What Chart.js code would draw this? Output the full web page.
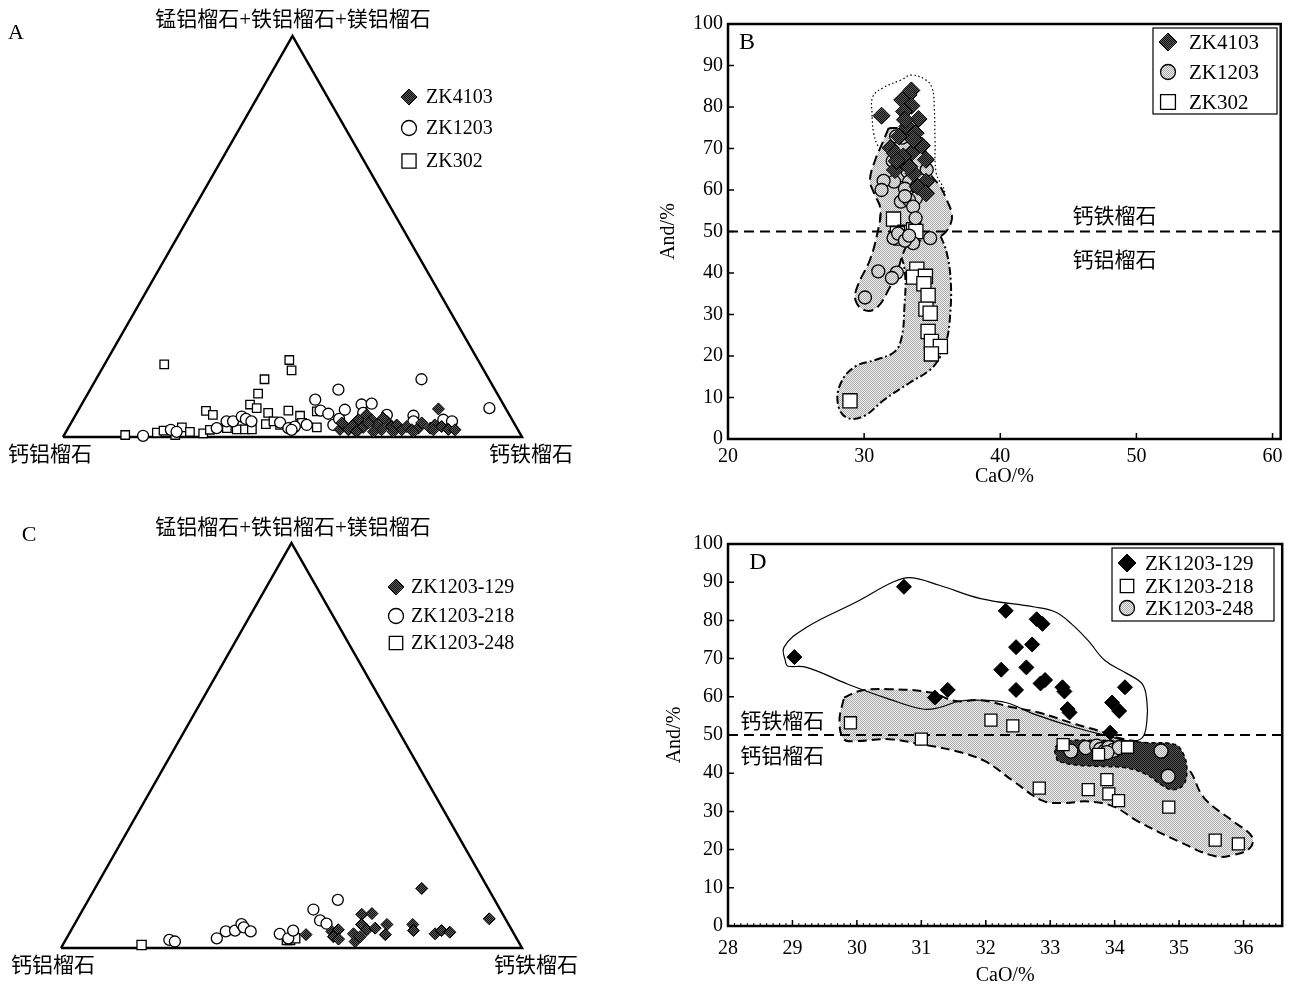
<!DOCTYPE html>
<html>
<head>
<meta charset="utf-8">
<script src="https://cdn.jsdelivr.net/npm/chart.js@4.4.1/dist/chart.umd.min.js"></script>
<style>
  body { margin: 0; background: #fff; width: 1292px; height: 987px; overflow: hidden; position: relative; }
  canvas { position: absolute; }
</style>
</head>
<body>
<canvas id="chartA" width="620" height="490" style="left:0;top:0"></canvas>
<canvas id="chartB" width="652" height="490" style="left:640px;top:0"></canvas>
<canvas id="chartC" width="620" height="497" style="left:0;top:490px"></canvas>
<canvas id="chartD" width="652" height="467" style="left:640px;top:520px"></canvas>
<script>
// ---------- A: ternary, And % and (Sps+Alm+Prp) %, Grs is the rest
const aZK4103And = [78.3, 59.4, 61.3, 61.7, 62.2, 64.2, 63.4, 65.1, 66.8, 68.5, 68.6, 70.3, 71.2, 72.9, 73.6, 75.1, 76.3, 76.4, 78.9, 79.5, 81.2, 83.0, 84.5, 63.3, 67.0, 71.3, 75.7, 79.8, 59.0, 64.8, 67.4];
const aZK4103Py  = [7.0, 1.9, 1.8, 3.0, 4.3, 2.4, 5.5, 4.3, 3.0, 1.8, 3.9, 2.6, 3.0, 1.8, 2.6, 1.8, 2.2, 3.5, 2.2, 3.0, 2.6, 1.9, 1.8, 1.3, 1.3, 1.3, 1.3, 1.8, 3.5, 3.5, 4.7];
const aZK1203And = [17.3, 22.6, 24.1, 32.4, 33.7, 35.1, 36.4, 37.6, 39.1, 45.5, 48.0, 49.2, 51.6, 50.3, 52.8, 54.9, 54.1, 57.4, 57.9, 61.0, 63.1, 62.4, 67.8, 73.7, 74.4, 70.9, 80.7, 82.8, 89.3, 48.9, 58.0];
const aZK1203Py  = [0.3, 1.8, 1.3, 2.2, 3.9, 3.9, 5.1, 4.5, 3.9, 3.6, 2.2, 2.6, 3.0, 9.3, 6.6, 5.8, 11.8, 3.0, 4.5, 8.1, 8.3, 6.0, 5.5, 5.3, 3.9, 14.4, 4.3, 3.9, 7.2, 1.8, 6.8];
const aZK302And  = [13.0, 39.7, 41.5, 36.7, 37.1, 36.7, 38.6, 27.9, 29.9, 45.8, 41.7, 49.0, 52.1, 13.3, 19.9, 21.1, 24.7, 27.0, 30.1, 31.1, 34.6, 36.9, 38.7, 40.2, 42.6, 43.9, 45.8, 50.3, 54.1, 49.0, 24.2];
const aZK302Py   = [18.1, 19.2, 16.6, 14.4, 10.8, 8.1, 7.2, 6.5, 5.5, 6.6, 6.0, 5.3, 6.4, 0.5, 1.1, 1.6, 2.4, 1.3, 0.9, 1.8, 2.2, 1.9, 1.9, 1.9, 3.2, 3.9, 3.0, 3.5, 2.4, 2.4, 0.5];

// ---------- C: ternary
const c129And = [70.9, 89.3, 51.5, 56.7, 57.9, 57.7, 59.1, 63.0, 61.7, 63.5, 61.1, 63.2, 62.3, 64.1, 65.7, 67.8, 68.7, 73.4, 74.3, 79.4, 80.4, 82.4];
const c129Py  = [14.7, 7.2, 3.3, 4.1, 4.5, 2.8, 2.2, 1.6, 3.5, 2.8, 8.3, 8.5, 5.8, 4.5, 4.9, 5.8, 3.3, 5.8, 4.3, 3.5, 4.3, 3.9];
const c218And = [22.5, 23.9, 32.6, 33.7, 35.6, 36.2, 37.1, 39.1, 45.7, 48.1, 48.2, 50.0, 52.8, 54.6, 54.1];
const c218Py  = [2.0, 1.6, 2.4, 4.1, 4.3, 5.9, 5.1, 4.1, 3.5, 2.4, 4.3, 9.5, 6.8, 6.0, 11.9];
const c248And = [17.1, 48.0, 48.7, 49.6];
const c248Py  = [0.75, 2.0, 2.0, 2.4];

// triangle corners: Grs, Sps+Alm+Prp, And
const cornerAnd = [0, 0, 100, 0];
const cornerPy  = [0, 100, 0, 0];

// ---------- B: CaO vs And
const b4103CaO = [31.28, 33.47, 33.26, 32.8, 33.47, 32.93, 34.0, 33.17, 33.78, 32.56, 34.24, 31.95, 32.26, 33.47, 34.54, 33.0, 32.26, 33.63, 34.54, 33.93, 34.54, 33.32, 32.87, 33.63, 33.0, 32.4];
const b4103And = [77.9, 84, 82.9, 81.7, 80.3, 78.9, 77.1, 75.3, 73.7, 72.9, 70.7, 70.1, 68.9, 68.9, 67.3, 66.5, 64.8, 64.0, 62.0, 60.8, 59.2, 65.6, 68.1, 72.1, 76.9, 67];
const b1203CaO = [32.35, 32.8, 32.5, 32.1, 34.6, 32.7, 33.2, 32.2, 31.43, 31.28, 33.3, 34.1, 33.87, 33.0, 33.8, 32.7, 33.3, 33.6, 33.0, 33.78, 32.16, 32.5, 33.6, 33.0, 34.85, 33.3, 31.04, 32.4, 32.04, 30.06];
const b1203And = [72.9, 72.6, 67.3, 67, 64.9, 63.6, 64.4, 62, 62.2, 60, 62, 62.4, 60.8, 60.3, 58, 57.2, 57.6, 56, 58.5, 53.2, 48.4, 49.5, 47.2, 47.8, 48.4, 49, 40.4, 40.1, 38.8, 34.1];
const b302CaO  = [32.16, 32.7, 33.0, 33.63, 33.8, 32.45, 33.87, 33.63, 34.5, 34.39, 34.7, 34.54, 34.85, 34.7, 34.94, 35.6, 34.94, 28.96];
const b302And  = [53, 48.4, 49.8, 50.4, 50, 49.5, 40.9, 39, 39.2, 37.4, 34.6, 31.3, 30.3, 25.9, 23.5, 22.3, 20.5, 9.2];

const b4103FieldCaO = [30.58, 30.64, 31.49, 32.71, 33.48, 34.54, 35.0, 35.15, 35.21, 35.3, 35.9, 34.85, 33.3, 31.8, 31.04, 30.7, 30.58];
const b4103FieldAnd = [77.7, 82.5, 84.8, 86.5, 87.7, 86.5, 84.5, 80.1, 72.1, 64.0, 59.2, 57.6, 60.8, 67.3, 70.5, 73.7, 77.7];
const b1203FieldCaO = [31.8, 31.34, 30.82, 30.43, 30.73, 31.2, 31.0, 30.43, 29.51, 29.36, 29.97, 30.88, 31.8, 32.56, 32.87, 33.32, 34.54, 35.76, 36.37, 36.43, 36.07, 35.6, 34.85, 34.54, 34.24, 33.6, 32.7, 31.8];
const b1203FieldAnd = [74.9, 71.3, 67.3, 62.4, 59.2, 55.5, 50, 43.2, 36.8, 33.5, 31.1, 31.5, 36, 41.6, 44.8, 47.2, 48, 49.2, 52, 54.4, 57.6, 60.8, 64, 68.9, 72.1, 74.1, 74.9, 74.9];
const b302FieldCaO  = [31.19, 31.95, 33.32, 34.85, 35.52, 36.07, 36.37, 36.31, 36.07, 35.6, 34.85, 33.32, 31.49, 29.97, 28.75, 28.08, 28.29, 29.36, 30.88, 32.26, 32.77, 32.96, 33.02, 32.71, 31.95, 31.25, 31.19];
const b302FieldAnd  = [54.4, 56.2, 56.4, 54.4, 49.6, 44.8, 37.6, 29.5, 23.9, 19.9, 16.7, 13.5, 9.5, 5.5, 5.1, 8.3, 13.5, 17.5, 19.1, 21.1, 24.7, 31.9, 39.2, 44.0, 48.0, 51.2, 54.4];
const bLineCaO = [20, 60.6];
const bLineAnd = [50, 50];

// ---------- D: CaO vs And
const d129CaO = [29.03, 30.73, 31.21, 31.41, 32.31, 32.24, 32.47, 32.47, 32.63, 32.72, 32.79, 32.88, 32.85, 32.92, 33.19, 33.22, 33.27, 33.3, 33.96, 34.07, 34.16, 33.93];
const d129And = [70.4, 88.8, 59.8, 61.8, 82.5, 67.1, 73.0, 61.8, 67.7, 73.7, 80.3, 79.1, 63.5, 64.4, 62.5, 61.4, 56.8, 55.9, 58.5, 56.3, 62.5, 50.6];
const d218CaO = [29.9, 31.0, 32.08, 32.42, 32.83, 33.2, 33.59, 33.75, 33.88, 33.91, 34.06, 34.2, 34.84, 35.56, 35.92];
const d218And = [53.2, 48.9, 53.9, 52.4, 36.1, 47.5, 35.7, 44.9, 38.3, 34.6, 32.8, 46.8, 31.1, 22.5, 21.5];
const d248CaO = [33.32, 33.55, 33.72, 33.78, 33.85, 33.91, 33.98, 34.07, 33.88, 34.72, 34.83];
const d248And = [45.8, 46.7, 47.1, 46.2, 45.8, 46.7, 46.0, 46.7, 45.4, 45.8, 39.2];

const d129FieldCaO = [28.9, 28.87, 29.22, 29.99, 30.57, 30.83, 31.28, 31.92, 32.76, 33.08, 33.33, 33.59, 33.85, 34.2, 34.43, 34.5, 34.5, 34.43, 34.23, 33.91, 33.4, 32.76, 32.31, 31.92, 31.6, 31.28, 31.02, 30.5, 29.86, 29.22, 28.93, 28.9];
const d129FieldAnd = [68.6, 73, 78.2, 84.8, 90.1, 91.2, 89.2, 85.7, 83.5, 82.2, 79.1, 74.7, 69.5, 66, 63.3, 58.9, 53.7, 49.3, 48.4, 49.7, 51.9, 55.4, 58.5, 59.1, 58.9, 57.2, 56.8, 59.4, 63.3, 67.7, 68, 68.6];
const d218FieldCaO = [29.8, 30.06, 30.5, 31.15, 31.53, 31.92, 32.43, 32.82, 33.4, 33.85, 34.0, 34.67, 35.13, 35.39, 35.84, 36.13, 36.1, 35.84, 35.55, 35.0, 34.36, 33.98, 33.59, 33.2, 32.88, 32.43, 31.98, 31.53, 31.02, 30.5, 29.99, 29.8, 29.73, 29.8];
const d218FieldAnd = [59.8, 61.6, 62, 61.1, 58.9, 59.1, 57.2, 55.9, 52.8, 50.6, 49.5, 46.7, 41.4, 33.5, 27.4, 23.4, 20.4, 18.6, 18.3, 22.1, 27.4, 31.3, 32.6, 32.2, 32.8, 37.9, 43.2, 45.8, 47.5, 48.9, 48.4, 48.9, 53.7, 59.8];
const d248FieldCaO = [33.11, 33.08, 33.27, 33.72, 34.17, 34.5, 34.94, 35.07, 35.12, 35.07, 34.9, 34.72, 34.5, 34.17, 33.72, 33.33, 33.11];
const d248FieldAnd = [43.2, 46.7, 48.4, 48.6, 48.4, 48, 47.5, 44.9, 41, 37, 35.7, 37, 39.6, 41.4, 41.8, 42.3, 43.2];
const dLineCaO = [28, 36.6];
const dLineAnd = [50, 50];

const SERIF = '"Liberation Serif", "Noto Sans CJK SC", serif';
const H = Math.sqrt(3) / 2;

function pts(xs, ys) { return xs.map((x, i) => ({ x: x, y: ys[i] })); }
function ternary(andArr, pyArr) { return andArr.map((a, i) => ({ x: a + pyArr[i] / 2, y: pyArr[i] * H })); }

function stipple(c1, c2) {
  const p = document.createElement('canvas');
  p.width = 2; p.height = 2;
  const g = p.getContext('2d');
  g.fillStyle = c2; g.fillRect(0, 0, 2, 2);
  g.fillStyle = c1; g.fillRect(0, 0, 1, 1); g.fillRect(1, 1, 1, 1);
  return g.createPattern(p, 'repeat');
}
const lightPat = stipple('#a8a8a8', '#f2f2f2');
const darkPat = stipple('#0d0d0d', '#5c5c5c');

function marker(ctx, style, x, y, r, fill, stroke, lw) {
  ctx.beginPath();
  if (style === 'circle') ctx.arc(x, y, r, 0, Math.PI * 2);
  else if (style === 'rect') { const s = r * Math.SQRT1_2; ctx.rect(x - s, y - s, 2 * s, 2 * s); }
  else { ctx.moveTo(x - r, y); ctx.lineTo(x, y - r); ctx.lineTo(x + r, y); ctx.lineTo(x, y + r); ctx.closePath(); }
  ctx.fillStyle = fill; ctx.fill();
  ctx.lineWidth = lw; ctx.strokeStyle = stroke; ctx.stroke();
}

// text labels, in canvas pixels or in data units
const texts = {
  id: 'texts',
  afterDraw(chart, args, opts) {
    const ctx = chart.ctx;
    (opts.items || []).forEach(t => {
      let x = t.x, y = t.y;
      if (t.data) { x = chart.scales.x.getPixelForValue(t.data[0]); y = chart.scales.y.getPixelForValue(t.data[1]); }
      ctx.save();
      ctx.font = t.font; ctx.fillStyle = '#000';
      ctx.textAlign = t.align || 'center'; ctx.textBaseline = 'middle';
      ctx.fillText(t.text, x, y);
      ctx.restore();
    });
  }
};

// legend drawn from the datasets' own point styles
const keyBox = {
  id: 'keyBox',
  afterDraw(chart, args, opts) {
    if (!opts.rows) return;
    const ctx = chart.ctx;
    ctx.save();
    if (opts.box) {
      ctx.lineWidth = 1.2; ctx.strokeStyle = '#000';
      ctx.strokeRect(opts.box[0], opts.box[1], opts.box[2], opts.box[3]);
    }
    opts.rows.forEach((y, i) => {
      const ds = chart.data.datasets[opts.ds[i]];
      marker(ctx, ds.pointStyle, opts.markerX, y, opts.radii[i], ds.pointBackgroundColor, '#000', ds.pointBorderWidth);
      ctx.font = opts.font; ctx.fillStyle = '#000';
      ctx.textAlign = 'left'; ctx.textBaseline = 'middle';
      ctx.fillText(ds.label, opts.textX, y + 1);
    });
    ctx.restore();
  }
};

// box frame with inward ticks
const frame = {
  id: 'frame',
  afterDatasetsDraw(chart, args, opts) {
    if (!opts.on) return;
    const { ctx, chartArea: a, scales: { x, y } } = chart;
    ctx.save();
    ctx.strokeStyle = '#000';
    ctx.lineWidth = 1.5;
    ctx.beginPath();
    x.ticks.forEach(t => { const p = x.getPixelForValue(t.value); ctx.moveTo(p, a.bottom); ctx.lineTo(p, a.bottom - 6); });
    y.ticks.forEach(t => { const p = y.getPixelForValue(t.value); ctx.moveTo(a.left, p); ctx.lineTo(a.left + 6, p); });
    ctx.stroke();
    if (opts.minor) {
      ctx.lineWidth = 1;
      ctx.beginPath();
      for (let v = x.min; v <= x.max; v += opts.minor) {
        const p = x.getPixelForValue(v);
        ctx.moveTo(p, a.bottom); ctx.lineTo(p, a.bottom - 3);
      }
      ctx.stroke();
    }
    ctx.lineWidth = 2.5;
    ctx.strokeRect(a.left, a.top, a.right - a.left, a.bottom - a.top);
    ctx.restore();
  }
};

function pointSet(label, data, style, r, fill, lw, order) {
  return { label: label, data: data, pointStyle: style, pointRadius: r, pointHoverRadius: r,
    pointBackgroundColor: fill, pointBorderColor: '#000', pointBorderWidth: lw, showLine: false,
    clip: false, order: order };
}
function fieldSet(data, fill, dash, lw, order) {
  return { data: data, showLine: true, tension: 0.4, fill: fill ? 'shape' : false, backgroundColor: fill || 'transparent',
    borderColor: '#000', borderWidth: lw, borderDash: dash, pointRadius: 0, pointHoverRadius: 0, order: order };
}

function ternaryChart(id, pad, sets, items, key) {
  const datasets = sets.slice();
  datasets.push({ data: ternary(cornerAnd, cornerPy), showLine: true, borderColor: '#000', borderWidth: 2.5,
    pointRadius: 0, pointHoverRadius: 0, fill: false, clip: false, order: 10 });
  new Chart(document.getElementById(id), {
    type: 'scatter',
    data: { datasets: datasets },
    options: {
      responsive: false, animation: false, events: [],
      layout: { padding: pad },
      scales: {
        x: { display: false, min: 0, max: 100 },
        y: { display: false, min: 0, max: 100 * H }
      },
      plugins: { legend: { display: false }, tooltip: { enabled: false }, texts: { items: items }, keyBox: key, frame: { on: false } }
    },
    plugins: [texts, keyBox, frame]
  });
}

function xyChart(id, pad, xr, xStep, xH, yW, titlePads, datasets, items, key, minor) {
  const tickFont = { family: SERIF, size: 20 };
  new Chart(document.getElementById(id), {
    type: 'scatter',
    data: { datasets: datasets },
    options: {
      responsive: false, animation: false, events: [],
      layout: { padding: pad },
      scales: {
        x: {
          type: 'linear', min: xr[0], max: xr[1],
          ticks: { stepSize: xStep, includeBounds: false, color: '#000', font: tickFont, padding: titlePads.xTick },
          grid: { display: false, drawTicks: false }, border: { display: false },
          title: { display: true, text: 'CaO/%', color: '#000', font: { family: SERIF, size: 20, lineHeight: 1.1 }, padding: { top: 0, bottom: titlePads.x } },
          afterFit(s) { s.height = xH; }
        },
        y: {
          type: 'linear', min: 0, max: 100,
          ticks: { stepSize: 10, color: '#000', font: tickFont, padding: 5 },
          grid: { display: false, drawTicks: false }, border: { display: false },
          title: { display: true, text: 'And/%', color: '#000', font: { family: SERIF, size: 20, lineHeight: 1.1 }, padding: { top: titlePads.y, bottom: 0 } },
          afterFit(s) { s.width = yW; }
        }
      },
      plugins: { legend: { display: false }, tooltip: { enabled: false }, texts: { items: items }, keyBox: key, frame: { on: true, minor: minor } }
    },
    plugins: [texts, keyBox, frame]
  });
}

const cjk = '21px ' + SERIF;
const topLabel = '锰铝榴石+铁铝榴石+镁铝榴石';

// ---------- A
ternaryChart('chartA', { left: 63, right: 98, top: 36, bottom: 53 }, [
  pointSet('ZK4103', ternary(aZK4103And, aZK4103Py), 'rectRot', 6, darkPat, 1, 0),
  pointSet('ZK1203', ternary(aZK1203And, aZK1203Py), 'circle', 5.5, '#fff', 1.3, 1),
  pointSet('ZK302', ternary(aZK302And, aZK302Py), 'rect', 6, '#fff', 1.3, 2)
], [
  { text: 'A', x: 16, y: 33, font: '22px ' + SERIF },
  { text: topLabel, x: 293, y: 20, font: cjk },
  { text: '钙铝榴石', x: 50, y: 455, font: cjk },
  { text: '钙铁榴石', x: 531, y: 455, font: cjk }
], { rows: [97, 128, 161], ds: [0, 1, 2], radii: [8, 7.5, 10], markerX: 409, textX: 426, font: '20px ' + SERIF });

// ---------- C
ternaryChart('chartC', { left: 61, right: 98, top: 53, bottom: 39 }, [
  pointSet('ZK1203-129', ternary(c129And, c129Py), 'rectRot', 6, darkPat, 1, 0),
  pointSet('ZK1203-218', ternary(c218And, c218Py), 'circle', 5.5, '#fff', 1.3, 1),
  pointSet('ZK1203-248', ternary(c248And, c248Py), 'rect', 6.5, '#fff', 1.3, 2)
], [
  { text: 'C', x: 29, y: 45, font: '22px ' + SERIF },
  { text: topLabel, x: 293, y: 38, font: cjk },
  { text: '钙铝榴石', x: 53, y: 476, font: cjk },
  { text: '钙铁榴石', x: 536, y: 476, font: cjk }
], { rows: [97, 126, 153], ds: [0, 1, 2], radii: [8, 7.5, 9.5], markerX: 396, textX: 411, font: '20px ' + SERIF });

// ---------- B
xyChart('chartB', { left: 0, right: 9, top: 24, bottom: 0 }, [20, 60.6], 10, 51, 88, { x: 2, y: 18, xTick: 6 }, [
  pointSet('ZK4103', pts(b4103CaO, b4103And), 'rectRot', 8.5, darkPat, 1, 0),
  pointSet('ZK1203', pts(b1203CaO, b1203And), 'circle', 6.5, lightPat, 1.3, 1),
  pointSet('ZK302', pts(b302CaO, b302And), 'rect', 10, '#fff', 1.3, 2),
  { data: pts(bLineCaO, bLineAnd), showLine: true, borderColor: '#000', borderWidth: 2, borderDash: [10, 6], pointRadius: 0, pointHoverRadius: 0, fill: false, order: 3 },
  fieldSet(pts(b1203FieldCaO, b1203FieldAnd), lightPat, [10, 5], 2, 4),
  fieldSet(pts(b302FieldCaO, b302FieldAnd), lightPat, [8, 3, 2, 3], 2, 5),
  fieldSet(pts(b4103FieldCaO, b4103FieldAnd), null, [1.5, 2.5], 1.2, 6)
], [
  { text: 'B', x: 107, y: 43, font: '24px ' + SERIF },
  { text: '钙铁榴石', data: [48.4, 53.3], font: cjk },
  { text: '钙铝榴石', data: [48.4, 42.7], font: cjk }
], { box: [513, 28, 124, 86], rows: [42, 72, 102], ds: [0, 1, 2], radii: [9, 7.5, 10.5], markerX: 528, textX: 549, font: '21px ' + SERIF }, 0);

// ---------- D
xyChart('chartD', { left: 0, right: 9, top: 24, bottom: 0 }, [28, 36.6], 1, 61, 88, { x: 0, y: 24, xTick: 11 }, [
  pointSet('ZK1203-129', pts(d129CaO, d129And), 'rectRot', 7.5, '#000', 1, 0),
  pointSet('ZK1203-218', pts(d218CaO, d218And), 'rect', 8.5, '#fff', 1.3, 1),
  pointSet('ZK1203-248', pts(d248CaO, d248And), 'circle', 7, lightPat, 1.3, 2),
  { data: pts(dLineCaO, dLineAnd), showLine: true, borderColor: '#000', borderWidth: 2, borderDash: [10, 6], pointRadius: 0, pointHoverRadius: 0, fill: false, order: 3 },
  fieldSet(pts(d248FieldCaO, d248FieldAnd), darkPat, [4, 3], 1.5, 4),
  fieldSet(pts(d129FieldCaO, d129FieldAnd), null, [], 1.2, 5),
  fieldSet(pts(d218FieldCaO, d218FieldAnd), lightPat, [9, 5], 2, 6)
], [
  { text: 'D', x: 118, y: 43, font: '24px ' + SERIF },
  { text: '钙铁榴石', data: [28.84, 53.4], font: cjk },
  { text: '钙铝榴石', data: [28.84, 44.2], font: cjk }
], { box: [472, 28, 162, 73], rows: [43, 66, 88], ds: [0, 1, 2], radii: [9, 9.5, 7.5], markerX: 487, textX: 505, font: '21px ' + SERIF }, 0.1);
</script>
</body>
</html>
